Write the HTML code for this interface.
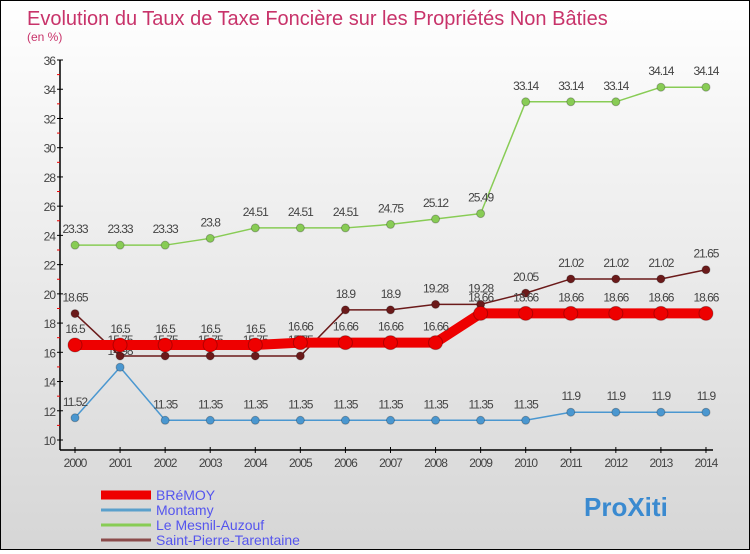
<!DOCTYPE html>
<html><head><meta charset="utf-8"><style>
html,body{margin:0;padding:0}
body{width:750px;height:550px;overflow:hidden;font-family:"Liberation Sans",sans-serif}
#wrap{position:relative;width:748px;height:548px;border:1px solid #000;background:linear-gradient(#ffffff,#f2f2f2 30%,#d6d6d6)}
</style></head><body>
<div id="wrap">
<svg id="svg" width="748" height="548" xmlns="http://www.w3.org/2000/svg"></svg>
</div>
<script>
const years=[2000,2001,2002,2003,2004,2005,2006,2007,2008,2009,2010,2011,2012,2013,2014];
const bremoy=[16.5,16.5,16.5,16.5,16.5,16.66,16.66,16.66,16.66,18.66,18.66,18.66,18.66,18.66,18.66];
const montamy=[11.52,14.98,11.35,11.35,11.35,11.35,11.35,11.35,11.35,11.35,11.35,11.9,11.9,11.9,11.9];
const mesnil=[23.33,23.33,23.33,23.8,24.51,24.51,24.51,24.75,25.12,25.49,33.14,33.14,33.14,34.14,34.14];
const stpierre=[18.65,15.75,15.75,15.75,15.75,15.75,18.9,18.9,19.28,19.28,20.05,21.02,21.02,21.02,21.65];
const yTicks=[10,12,14,16,18,20,22,24,26,28,30,32,34,36];
const seriesNames=["BRéMOY","Montamy","Le Mesnil-Auzouf","Saint-Pierre-Tarentaine"];
const svg=document.getElementById('svg');
const NS='http://www.w3.org/2000/svg';
const X=i=>74+i*45.07;
const Y=v=>439-(v-10)*14.615;
function mk(t,a,p){const e=document.createElementNS(NS,t);for(const k in a)e.setAttribute(k,a[k]);(p||svg).appendChild(e);return e;}
let t=mk('text',{x:26,y:24,'font-size':20,fill:'#c8336a'});t.textContent='Evolution du Taux de Taxe Foncière sur les Propriétés Non Bâties';

t=mk('text',{x:26,y:40,'font-size':12,fill:'#c8336a'});t.textContent='(en %)';

// axes
let a=mk('line',{x1:59,y1:59,x2:59,y2:449,stroke:'#000','stroke-width':1.5});

a=mk('line',{x1:59,y1:449,x2:712,y2:449,stroke:'#000','stroke-width':1.5});

yTicks.forEach(v=>{
 mk('line',{x1:56,y1:Y(v),x2:62,y2:Y(v),stroke:'#000'});
 if(v<36)mk('line',{x1:56,y1:Y(v+1),x2:59,y2:Y(v+1),stroke:'#e00'});
 const l=mk('text',{x:54,y:Y(v)+5,'font-size':12,fill:'#444','text-anchor':'end','letter-spacing':-1});l.textContent=v;
 
});
years.forEach((yr,i)=>{
 mk('line',{x1:X(i),y1:446,x2:X(i),y2:452,stroke:'#000'});
 const l=mk('text',{x:X(i),y:466,'font-size':12,fill:'#444','text-anchor':'middle','letter-spacing':-1});l.textContent=yr;
 
});
function series(data,color,w,r,name){
 const g=mk('g',{});
 
 mk('polyline',{points:data.map((v,i)=>X(i)+','+Y(v)).join(' '),fill:'none',stroke:color,'stroke-width':w},g);
 data.forEach((v,i)=>{
  const c=mk('circle',{cx:X(i),cy:Y(v),r:r,fill:color,stroke:'rgba(0,0,0,0.25)'},g);
  
  const l=mk('text',{x:X(i),y:Y(v)-12,'font-size':12,fill:'#444','text-anchor':'middle','letter-spacing':-1},g);l.textContent=v;
 });
}
series(montamy,'#4a97d0',1.5,4,'series-montamy');
series(mesnil,'#88cc55',1.5,4,'series-le-mesnil-auzouf');
series(stpierre,'#6b1a1a',1.5,4,'series-saint-pierre-tarentaine');
series(bremoy,'#ee0000',10,7,'series-bremoy');
const colors=['#ee0000','#5aa0cc','#88cc55','#8b4b4b'],ws=[9,3,3,3];
seriesNames.forEach((n,i)=>{
 const y=494+i*15;
 const g=mk('g',{});
 mk('line',{x1:100,y1:y,x2:150,y2:y,stroke:colors[i],'stroke-width':ws[i]},g);
 const l=mk('text',{x:155,y:y+5,'font-size':14,fill:'#5555ee'},g);l.textContent=n;
});
const lg=mk('text',{x:583,y:515,'font-size':26,'font-weight':'bold',fill:'#3a8ad0'});lg.textContent='ProXiti';

</script>
</body></html>
